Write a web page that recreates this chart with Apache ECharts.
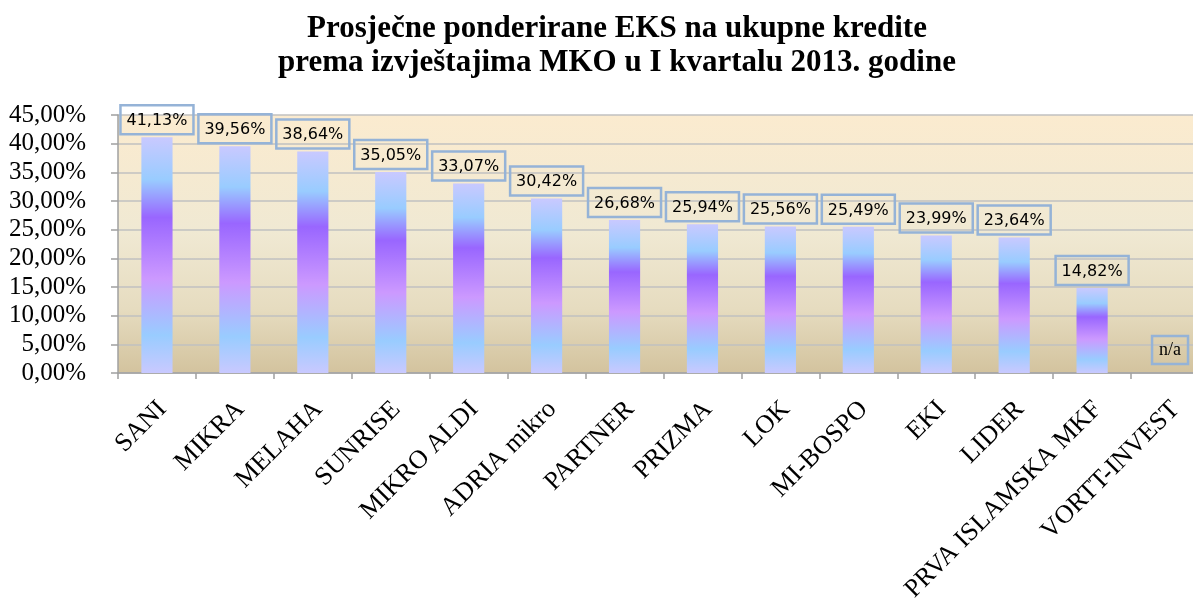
<!DOCTYPE html>
<html>
<head>
<meta charset="utf-8">
<script src="https://cdn.jsdelivr.net/npm/echarts@6/dist/echarts.min.js"></script>
<style>
  html, body { margin: 0; padding: 0; background: #fff; }
  #chart { width: 1193px; height: 607px; }
</style>
</head>
<body>
<div id="chart"></div>
<script>
// data
const categories = ['SANI', 'MIKRA', 'MELAHA', 'SUNRISE', 'MIKRO ALDI', 'ADRIA mikro', 'PARTNER',
  'PRIZMA', 'LOK', 'MI-BOSPO', 'EKI', 'LIDER', 'PRVA ISLAMSKA MKF', 'VORTT-INVEST']
const eksValues = [41.13, 39.56, 38.64, 35.05, 33.07, 30.42, 26.68, 25.94, 25.56, 25.49, 23.99, 23.64, 14.82, null]
const yTicks = [0, 5, 10, 15, 20, 25, 30, 35, 40, 45]

const titleLines = ['Prosječne ponderirane EKS na ukupne kredite', 'prema izvještajima MKO u I kvartalu 2013. godine']

function pct(v) {
  return v.toFixed(2).replace('.', ',') + '%'
}

const chart = echarts.init(document.getElementById('chart'))

const barFill = new echarts.graphic.LinearGradient(0, 0, 0, 1, [
  { offset: 0, color: '#C9C9FF' },
  { offset: 0.18, color: '#99CCFF' },
  { offset: 0.34, color: '#9966FF' },
  { offset: 0.6, color: '#CC99FF' },
  { offset: 0.84, color: '#99CCFF' },
  { offset: 1, color: '#C9C9FF' },
])

const plotFill = new echarts.graphic.LinearGradient(0, 0, 0, 1, [
  { offset: 0, color: '#FBEBCF' },
  { offset: 0.45, color: '#F0E9D3' },
  { offset: 0.75, color: '#E6DCC0' },
  { offset: 1, color: '#D3C39E' },
])

const barData = eksValues.map(v => {
  if (v === null) {
    return {
      value: 0,
      label: {
        formatter: 'n/a',
        distance: 9,
        fontFamily: 'Liberation Serif',
        fontSize: 18,
        padding: [5, 7, 4, 7],
      },
    }
  }
  return v
})

const option = {
  animation: false,
  title: {
    text: titleLines.join('\n'),
    left: 612,
    top: 7,
    textAlign: 'center',
    textStyle: {
      fontFamily: 'Liberation Serif',
      fontWeight: 'bold',
      fontSize: 31,
      lineHeight: 34,
      color: '#000',
    },
  },
  // the plot runs past the right edge of the picture, as in the source image
  grid: {
    left: 118,
    width: 1091,
    top: 115,
    bottom: 234,
    outerBoundsMode: 'none',
    show: true,
    borderWidth: 0,
    backgroundColor: plotFill,
  },
  xAxis: {
    type: 'category',
    data: categories,
    axisLine: { lineStyle: { color: '#A0A0A0', width: 1.5 } },
    axisTick: { show: true, length: 6, lineStyle: { color: '#A0A0A0', width: 1.5 } },
    axisLabel: {
      rotate: 45,
      margin: 38,
      interval: 0,
      padding: [0, -8, 0, 0],
      fontFamily: 'Liberation Serif',
      fontSize: 26,
      color: '#000',
    },
  },
  yAxis: {
    type: 'value',
    min: yTicks[0],
    max: yTicks[yTicks.length - 1],
    interval: yTicks[1] - yTicks[0],
    axisLine: { show: true, lineStyle: { color: '#A0A0A0', width: 1.5 } },
    axisTick: { show: true, length: 7, lineStyle: { color: '#A0A0A0', width: 1.5 } },
    splitLine: { lineStyle: { color: '#C0C0C0', width: 1.5 } },
    axisLabel: {
      margin: 32,
      fontFamily: 'Liberation Serif',
      fontSize: 25,
      color: '#000',
      formatter: v => pct(v),
    },
  },
  series: [
    {
      type: 'bar',
      data: barData,
      barWidth: '40%',
      itemStyle: { color: barFill },
      label: {
        show: true,
        position: 'top',
        distance: 3,
        formatter: p => pct(p.value),
        fontFamily: 'DejaVu Sans',
        fontSize: 16,
        lineHeight: 19,
        color: '#000',
        borderColor: '#95B3D7',
        borderWidth: 2.5,
        padding: [6, 6, 4, 6],
      },
    },
  ],
}

chart.setOption(option)
</script>
</body>
</html>
